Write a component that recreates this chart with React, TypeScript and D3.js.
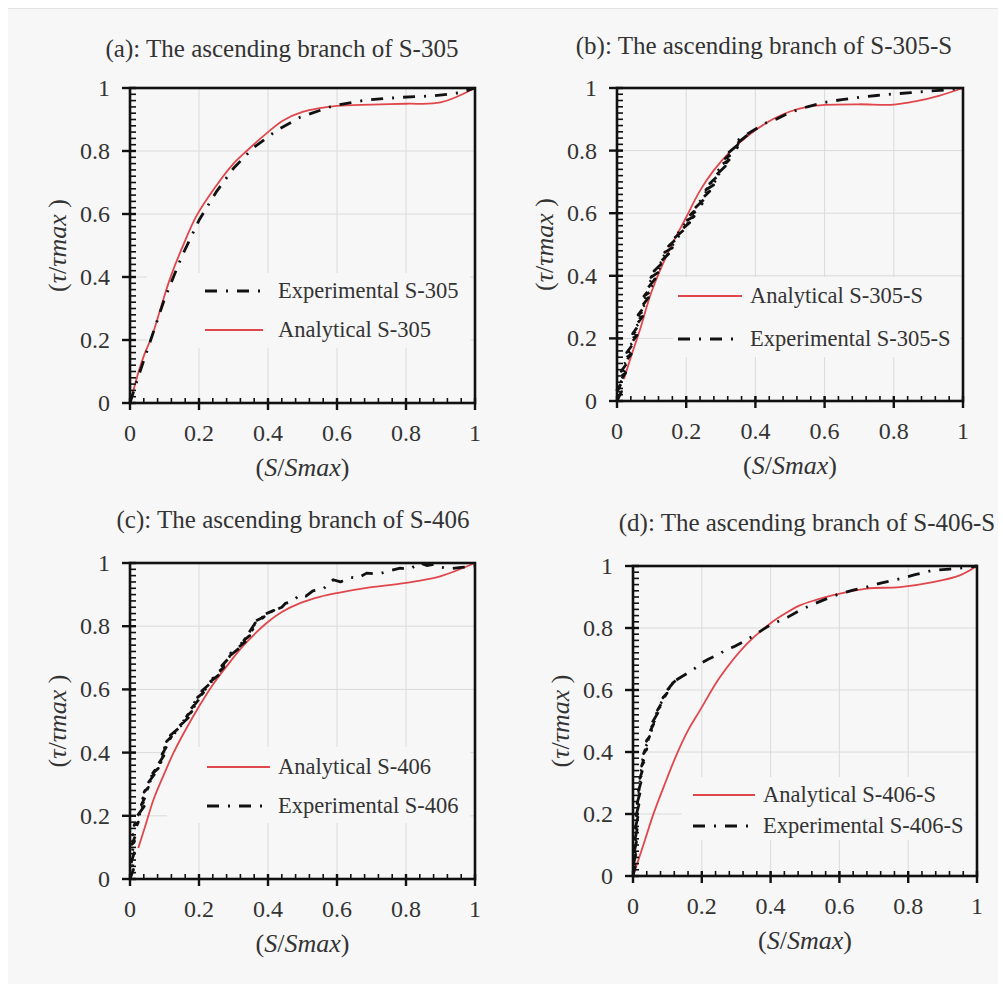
import React from 'react';
import * as d3 from 'd3';

// ---------- shared axis data ----------
const MAJOR_TICKS = [0, 0.2, 0.4, 0.6, 0.8, 1];
const MINOR_X = d3.range(0, 1.0001, 0.04);
const MINOR_Y = d3.range(0, 1.0001, 0.02);

// ---------- (a) S-305 ----------
const A_ANA_X = [0, 0.01, 0.025, 0.042, 0.063, 0.09, 0.116, 0.15, 0.193, 0.25, 0.3, 0.338, 0.4, 0.444, 0.5, 0.55, 0.6, 0.7, 0.8, 0.9, 1];
const A_ANA_Y = [0, 0.04, 0.1, 0.155, 0.21, 0.305, 0.395, 0.49, 0.595, 0.69, 0.76, 0.8, 0.86, 0.897, 0.924, 0.936, 0.943, 0.947, 0.95, 0.954, 1];
const A_EXP_X = [0, 0.02, 0.04, 0.06, 0.1, 0.15, 0.2, 0.25, 0.3, 0.357, 0.425, 0.493, 0.59, 0.686, 0.78, 0.88, 0.957, 1];
const A_EXP_Y = [0, 0.07, 0.135, 0.2, 0.33, 0.465, 0.58, 0.67, 0.745, 0.81, 0.865, 0.907, 0.944, 0.962, 0.97, 0.975, 0.985, 1];

// ---------- (b) S-305-S ----------
const B_ANA_X = [0.02, 0.04, 0.067, 0.1, 0.15, 0.2, 0.24, 0.279, 0.33, 0.385, 0.45, 0.5, 0.55, 0.6, 0.7, 0.8, 0.865, 0.93, 1];
const B_ANA_Y = [0.07, 0.14, 0.23, 0.35, 0.48, 0.587, 0.672, 0.736, 0.8, 0.853, 0.9, 0.925, 0.94, 0.946, 0.948, 0.947, 0.958, 0.975, 1];
const B_EXP_X = [0, 0.013, 0, 0.017, 0, 0.021, 0.004, 0.025, 0.008, 0.03, 0.012, 0.035, 0.017, 0.041, 0.023, 0.046, 0.028, 0.052, 0.034, 0.058, 0.039, 0.063, 0.045, 0.068, 0.05, 0.074, 0.055, 0.079, 0.061, 0.085, 0.066, 0.091, 0.073, 0.097, 0.078, 0.104, 0.085, 0.11, 0.091, 0.118, 0.098, 0.128, 0.107, 0.139, 0.117, 0.149, 0.128, 0.16, 0.138, 0.171, 0.149, 0.184, 0.16, 0.197, 0.173, 0.21, 0.186, 0.223, 0.199, 0.235, 0.212, 0.246, 0.224, 0.257, 0.235, 0.268, 0.246, 0.279, 0.257, 0.291, 0.268, 0.302, 0.28, 0.313, 0.291, 0.324, 0.302, 0.335, 0.313, 0.348, 0.324, 0.362, 0.338, 0.377, 0.352, 0.39, 0.41, 0.43, 0.46, 0.5, 0.55, 0.6, 0.65, 0.7, 0.75, 0.8, 0.85, 0.9, 0.95, 1];
const B_EXP_Y = [0, 0.03, 0.015, 0.05, 0.035, 0.07, 0.055, 0.09, 0.075, 0.11, 0.095, 0.13, 0.115, 0.15, 0.135, 0.17, 0.155, 0.19, 0.175, 0.21, 0.195, 0.23, 0.215, 0.25, 0.235, 0.27, 0.255, 0.29, 0.275, 0.31, 0.295, 0.33, 0.315, 0.35, 0.335, 0.37, 0.355, 0.39, 0.375, 0.41, 0.395, 0.43, 0.415, 0.45, 0.435, 0.47, 0.455, 0.49, 0.475, 0.51, 0.495, 0.53, 0.515, 0.55, 0.535, 0.57, 0.555, 0.59, 0.575, 0.61, 0.595, 0.63, 0.615, 0.65, 0.635, 0.67, 0.655, 0.69, 0.675, 0.71, 0.695, 0.73, 0.715, 0.75, 0.735, 0.77, 0.755, 0.79, 0.775, 0.81, 0.795, 0.83, 0.815, 0.85, 0.835, 0.862, 0.875, 0.888, 0.9, 0.922, 0.94, 0.954, 0.963, 0.97, 0.976, 0.981, 0.985, 0.99, 0.994, 1];

// ---------- (c) S-406 ----------
const C_ANA_X = [0.024, 0.045, 0.068, 0.1, 0.126, 0.16, 0.2, 0.24, 0.28, 0.33, 0.396, 0.44, 0.493, 0.55, 0.6, 0.686, 0.8, 0.899, 1];
const C_ANA_Y = [0.098, 0.17, 0.251, 0.335, 0.399, 0.47, 0.546, 0.615, 0.673, 0.74, 0.81, 0.845, 0.873, 0.893, 0.905, 0.921, 0.937, 0.958, 1];
const C_EXP_X = [0, 0.01, 0.002, 0.012, 0.003, 0.014, 0.004, 0.016, 0.006, 0.02, 0.008, 0.024, 0.012, 0.03, 0.018, 0.041, 0.03, 0.045, 0.033, 0.049, 0.037, 0.053, 0.041, 0.059, 0.046, 0.07, 0.054, 0.082, 0.066, 0.09, 0.077, 0.098, 0.085, 0.105, 0.093, 0.112, 0.1, 0.12, 0.106, 0.137, 0.117, 0.155, 0.134, 0.169, 0.151, 0.179, 0.164, 0.189, 0.174, 0.201, 0.184, 0.213, 0.196, 0.227, 0.208, 0.244, 0.222, 0.262, 0.24, 0.272, 0.256, 0.283, 0.266, 0.296, 0.277, 0.316, 0.292, 0.334, 0.312, 0.347, 0.33, 0.356, 0.342, 0.363, 0.35, 0.389, 0.362, 0.417, 0.385, 0.44, 0.45, 0.47, 0.493, 0.51, 0.53, 0.56, 0.589, 0.61, 0.64, 0.66, 0.686, 0.72, 0.75, 0.783, 0.81, 0.84, 0.86, 0.88, 0.9, 0.93, 0.96, 0.976, 1];
const C_EXP_Y = [0, 0.03, 0.02, 0.06, 0.05, 0.09, 0.08, 0.12, 0.11, 0.15, 0.14, 0.18, 0.17, 0.21, 0.195, 0.23, 0.215, 0.25, 0.235, 0.27, 0.255, 0.29, 0.275, 0.31, 0.295, 0.33, 0.315, 0.35, 0.335, 0.37, 0.355, 0.39, 0.375, 0.41, 0.395, 0.43, 0.415, 0.45, 0.435, 0.47, 0.455, 0.49, 0.475, 0.51, 0.495, 0.53, 0.515, 0.55, 0.535, 0.57, 0.555, 0.59, 0.575, 0.61, 0.595, 0.63, 0.615, 0.65, 0.635, 0.67, 0.655, 0.69, 0.675, 0.71, 0.695, 0.73, 0.715, 0.75, 0.735, 0.77, 0.755, 0.79, 0.775, 0.81, 0.795, 0.83, 0.815, 0.85, 0.835, 0.86, 0.872, 0.878, 0.9, 0.895, 0.912, 0.918, 0.947, 0.94, 0.955, 0.952, 0.968, 0.965, 0.975, 0.984, 0.98, 1.0, 0.992, 0.996, 0.987, 0.982, 0.986, 0.987, 0.99];

// ---------- (d) S-406-S ----------
const D_ANA_X = [0, 0.03, 0.06, 0.09, 0.128, 0.16, 0.195, 0.253, 0.331, 0.398, 0.44, 0.485, 0.53, 0.582, 0.679, 0.776, 0.872, 0.95, 1];
const D_ANA_Y = [0, 0.1, 0.202, 0.29, 0.395, 0.47, 0.535, 0.642, 0.749, 0.814, 0.845, 0.873, 0.89, 0.906, 0.927, 0.932, 0.948, 0.97, 1];
const D_EXP_X = [0, 0.006, 0, 0.007, 0.001, 0.008, 0.002, 0.009, 0.003, 0.01, 0.004, 0.011, 0.005, 0.012, 0.006, 0.013, 0.007, 0.014, 0.008, 0.015, 0.009, 0.017, 0.01, 0.019, 0.012, 0.021, 0.014, 0.023, 0.016, 0.025, 0.018, 0.027, 0.02, 0.03, 0.022, 0.033, 0.025, 0.036, 0.028, 0.04, 0.031, 0.044, 0.035, 0.048, 0.039, 0.054, 0.044, 0.06, 0.05, 0.067, 0.056, 0.074, 0.063, 0.082, 0.071, 0.09, 0.079, 0.099, 0.087, 0.108, 0.096, 0.118, 0.106, 0.13, 0.12, 0.14, 0.16, 0.18, 0.195, 0.22, 0.25, 0.27, 0.292, 0.32, 0.35, 0.389, 0.42, 0.45, 0.485, 0.52, 0.56, 0.602, 0.64, 0.679, 0.72, 0.776, 0.82, 0.872, 0.92, 0.969, 1];
const D_EXP_Y = [0, 0.03, 0.015, 0.05, 0.035, 0.07, 0.055, 0.09, 0.075, 0.11, 0.095, 0.13, 0.115, 0.15, 0.135, 0.17, 0.155, 0.19, 0.175, 0.21, 0.195, 0.23, 0.215, 0.25, 0.235, 0.27, 0.255, 0.29, 0.275, 0.31, 0.295, 0.33, 0.315, 0.35, 0.335, 0.37, 0.355, 0.39, 0.375, 0.41, 0.395, 0.43, 0.415, 0.45, 0.435, 0.47, 0.455, 0.49, 0.475, 0.51, 0.495, 0.53, 0.515, 0.55, 0.535, 0.57, 0.555, 0.59, 0.575, 0.61, 0.595, 0.625, 0.615, 0.635, 0.628, 0.642, 0.655, 0.67, 0.685, 0.7, 0.715, 0.73, 0.739, 0.755, 0.775, 0.803, 0.82, 0.835, 0.857, 0.875, 0.893, 0.911, 0.922, 0.932, 0.945, 0.959, 0.972, 0.986, 0.99, 0.995, 1];

const RED = '#e0474c';
const FONT = '"Liberation Serif", "Times New Roman", serif';

type Pt = [number, number];
const zip = (xs: number[], ys: number[]): Pt[] => xs.map((x, i) => [x, ys[i]]);

interface PanelCfg {
  title: string;
  titleX: number;
  titleY: number;
  x0: number; x1: number; yTop: number; yBot: number;
  ana: Pt[]; exp: Pt[];
  anaLabel: string; expLabel: string;
  anaFirst: boolean;
  legLineX1: number; legLineX2: number; legTextX: number; legY1: number; legY2: number;
  legBox: [number, number, number, number];
}

const panels: PanelCfg[] = [
  {
    title: '(a): The ascending branch of S-305', titleX: 282, titleY: 57,
    x0: 130, x1: 475, yTop: 88, yBot: 403,
    ana: zip(A_ANA_X, A_ANA_Y), exp: zip(A_EXP_X, A_EXP_Y),
    anaLabel: 'Analytical S-305', expLabel: 'Experimental S-305', anaFirst: false,
    legLineX1: 205, legLineX2: 263, legTextX: 278, legY1: 291, legY2: 330,
    legBox: [147, 273, 323, 75],
  },
  {
    title: '(b): The ascending branch of S-305-S', titleX: 764, titleY: 54,
    x0: 617, x1: 963, yTop: 88, yBot: 401,
    ana: zip(B_ANA_X, B_ANA_Y), exp: zip(B_EXP_X, B_EXP_Y),
    anaLabel: 'Analytical S-305-S', expLabel: 'Experimental S-305-S', anaFirst: true,
    legLineX1: 678, legLineX2: 742, legTextX: 750, legY1: 296, legY2: 339,
    legBox: [673, 277, 287, 80],
  },
  {
    title: '(c): The ascending branch of S-406', titleX: 293, titleY: 528,
    x0: 130, x1: 475, yTop: 563, yBot: 879,
    ana: zip(C_ANA_X, C_ANA_Y), exp: zip(C_EXP_X, C_EXP_Y),
    anaLabel: 'Analytical S-406', expLabel: 'Experimental S-406', anaFirst: true,
    legLineX1: 207, legLineX2: 270, legTextX: 278, legY1: 767, legY2: 806,
    legBox: [167, 747, 303, 76],
  },
  {
    title: '(d): The ascending branch of S-406-S', titleX: 807, titleY: 531,
    x0: 633, x1: 977, yTop: 566, yBot: 876,
    ana: zip(D_ANA_X, D_ANA_Y), exp: zip(D_EXP_X, D_EXP_Y),
    anaLabel: 'Analytical S-406-S', expLabel: 'Experimental S-406-S', anaFirst: true,
    legLineX1: 693, legLineX2: 755, legTextX: 763, legY1: 795, legY2: 826,
    legBox: [682, 777, 293, 63],
  },
];

const fmt = d3.format('~g');
const EXP_DASH = '12,9,2,9';
const TXT = '#333';

function Panel({ p }: { p: PanelCfg }) {
  const xs = d3.scaleLinear().domain([0, 1]).range([p.x0, p.x1]);
  const ys = d3.scaleLinear().domain([0, 1]).range([p.yBot, p.yTop]);
  const expLine = d3.line<Pt>().x(d => xs(d[0])).y(d => ys(d[1])).curve(d3.curveLinear);
  const anaLine = d3.line<Pt>().x(d => xs(d[0])).y(d => ys(d[1])).curve(d3.curveCatmullRom.alpha(0.5));
  const bg = '#f7f7f7';
  const anaY = p.anaFirst ? p.legY1 : p.legY2;
  const expY = p.anaFirst ? p.legY2 : p.legY1;
  const midX = (p.x0 + p.x1) / 2;
  const midY = (p.yTop + p.yBot) / 2;
  return (
    <g>
      <text x={p.titleX} y={p.titleY} textAnchor="middle" fontSize={25} fill={TXT} fontFamily={FONT}>{p.title}</text>
      {MAJOR_TICKS.map(t => (
        <line key={'gx' + t} x1={xs(t)} x2={xs(t)} y1={p.yTop} y2={p.yBot} stroke="#dadada" strokeWidth={1} />
      ))}
      {MAJOR_TICKS.map(t => (
        <line key={'gy' + t} x1={p.x0} x2={p.x1} y1={ys(t)} y2={ys(t)} stroke="#dadada" strokeWidth={1} />
      ))}
      <rect x={p.legBox[0]} y={p.legBox[1]} width={p.legBox[2]} height={p.legBox[3]} fill={bg} />
      <path d={anaLine(p.ana) || ''} fill="none" stroke={RED} strokeWidth={1.8} />
      <path d={expLine(p.exp) || ''} fill="none" stroke="#111" strokeWidth={2.8} strokeDasharray={EXP_DASH} strokeLinejoin="round" />
      <rect x={p.x0} y={p.yTop} width={p.x1 - p.x0} height={p.yBot - p.yTop} fill="none" stroke="#111" strokeWidth={2.6} />
      {MINOR_X.map(t => (
        <line key={'mx' + t} x1={xs(t)} x2={xs(t)} y1={p.yBot} y2={p.yBot - 5} stroke="#111" strokeWidth={1.6} />
      ))}
      {MINOR_Y.map(t => (
        <line key={'my' + t} x1={p.x0} x2={p.x0 + 6} y1={ys(t)} y2={ys(t)} stroke="#111" strokeWidth={1.6} />
      ))}
      {MAJOR_TICKS.map(t => (
        <line key={'Mx' + t} x1={xs(t)} x2={xs(t)} y1={p.yBot - 5} y2={p.yBot + 7} stroke="#111" strokeWidth={2.4} />
      ))}
      {MAJOR_TICKS.map(t => (
        <line key={'My' + t} x1={p.x0 - 8} x2={p.x0 + 6} y1={ys(t)} y2={ys(t)} stroke="#111" strokeWidth={2.4} />
      ))}
      {MAJOR_TICKS.map(t => (
        <text key={'lx' + t} x={xs(t)} y={p.yBot + 38} textAnchor="middle" fontSize={24} fill={TXT} fontFamily={FONT}>{fmt(t)}</text>
      ))}
      {MAJOR_TICKS.map(t => (
        <text key={'ly' + t} x={p.x0 - 20} y={ys(t) + 8} textAnchor="end" fontSize={24} fill={TXT} fontFamily={FONT}>{fmt(t)}</text>
      ))}
      <text x={midX} y={p.yBot + 73} textAnchor="middle" fontSize={26} fill={TXT} fontFamily={FONT}>
        (<tspan fontStyle="italic">S</tspan>/<tspan fontStyle="italic">Smax</tspan>)
      </text>
      <text transform={`translate(${p.x0 - 64},${midY}) rotate(-90)`} textAnchor="middle" fontSize={26} fill={TXT} fontFamily={FONT}>
        (<tspan fontStyle="italic">τ</tspan>/<tspan fontStyle="italic">τmax</tspan> )
      </text>
      <line x1={p.legLineX1} x2={p.legLineX2} y1={anaY} y2={anaY} stroke={RED} strokeWidth={1.8} />
      <text x={p.legTextX} y={anaY + 7} fontSize={22.5} fill={TXT} fontFamily={FONT}>{p.anaLabel}</text>
      <line x1={p.legLineX1} x2={p.legLineX2} y1={expY} y2={expY} stroke="#111" strokeWidth={2.8} strokeDasharray={EXP_DASH} />
      <text x={p.legTextX} y={expY + 7} fontSize={22.5} fill={TXT} fontFamily={FONT}>{p.expLabel}</text>
    </g>
  );
}

export default function App() {
  return (
    <div style={{ position: 'absolute', left: 0, top: 0 }}>
      <svg width={1003} height={984} style={{ display: 'block' }}>
        <rect x={0} y={0} width={1003} height={984} fill="#ffffff" />
        <rect x={8} y={8} width={990} height={976} fill="#f7f7f7" />
        <line x1={8} x2={998} y1={8.5} y2={8.5} stroke="#e2e2e2" strokeWidth={1} />
        {panels.map((p, i) => <Panel key={i} p={p} />)}
      </svg>
    </div>
  );
}
